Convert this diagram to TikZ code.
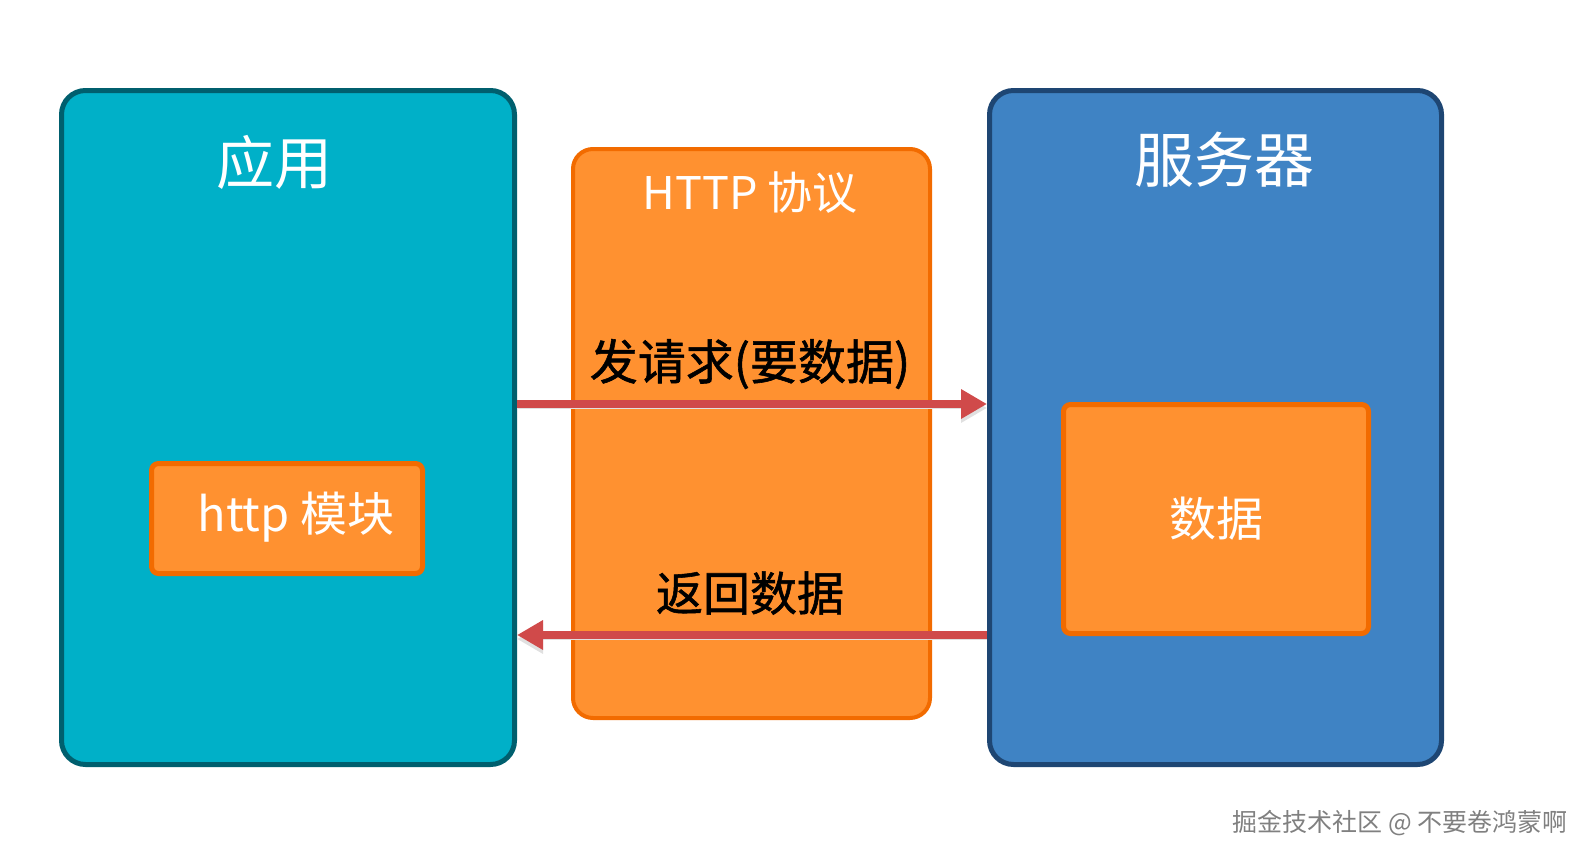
\documentclass[tikz,border=0pt]{standalone}
\usepackage{fontspec}
\setmainfont{Noto Sans CJK SC}
\newfontfamily\medfont{Noto Sans CJK SC}[FakeBold=1.2]
\usetikzlibrary{arrows.meta,positioning}
\definecolor{appfill}{HTML}{00B0C8}
\definecolor{appline}{HTML}{005F6E}
\definecolor{protofill}{HTML}{FF9130}
\definecolor{protoline}{HTML}{F26B00}
\definecolor{srvfill}{HTML}{3F83C4}
\definecolor{srvline}{HTML}{1E4673}
\definecolor{msgred}{HTML}{D04A4A}

\begin{document}
\begin{tikzpicture}[x=1pt,y=-1pt,
  bigbox/.style={draw,line width=5pt,rounded corners=24pt,inner sep=0pt},
  modbox/.style={draw=protoline,fill=protofill,line width=5pt,rounded corners=7pt,inner sep=0pt,text=white,font=\fontsize{47}{50}\selectfont},
  title/.style={inner sep=0pt,text=white,font=\fontsize{58}{62}\selectfont},
  msg/.style={inner sep=0pt,text=black,font=\medfont\fontsize{48}{52}\selectfont},
  arr/.style={draw=msgred,line width=8pt,-{Triangle[length=26pt,width=28pt]},
    preaction={draw=black!12,transform canvas={yshift=-4pt}}}]
  \useasboundingbox (0,0) rectangle (1590,862);
  \node[bigbox,draw=appline,fill=appfill,minimum width=453pt,minimum height=674pt] (app) at (288,427.5) {};
  \node[bigbox,draw=protoline,fill=protofill,line width=4pt,rounded corners=20pt,minimum width=357pt,minimum height=569pt] (proto) at (751.5,433.5) {};
  \node[bigbox,draw=srvline,fill=srvfill,minimum width=452pt,minimum height=674pt] (srv) at (1215.5,427.5) {};
  \node[title] (apptitle) at (274,162) {应用};
  \node[title,font=\fontsize{60}{64}\selectfont] (srvtitle) at (1224,160) {服务器};
  \node[title,font=\fontsize{45}{48}\selectfont] (prototitle) at (750,193) {HTTP 协议};
  \node[modbox,minimum width=271pt,minimum height=110pt] (http) at (287,518.5) {};
  \node[inner sep=0pt,text=white,font=\fontsize{47}{50}\selectfont] (httplabel) at (296,517) {http 模块};
  \node[modbox,minimum width=305pt,minimum height=229pt] (data) at (1216,519) {数据};
  \node[msg] (req) at (750,364) {发请求(要数据)};
  \node[msg,font=\medfont\fontsize{47}{50}\selectfont] (resp) at (750,593) {返回数据};
  \coordinate (reqy) at (0,404);
  \coordinate (respy) at (0,635);
  \draw[arr] (app.east |- reqy) -- (srv.west |- reqy);
  \draw[arr] (srv.west |- respy) -- (app.east |- respy);
  \node[inner sep=0pt,text=black!50,font=\fontsize{25}{28}\selectfont] (mark) at (1400,823) {掘金技术社区 @ 不要卷鸿蒙啊};
\end{tikzpicture}
\end{document}
